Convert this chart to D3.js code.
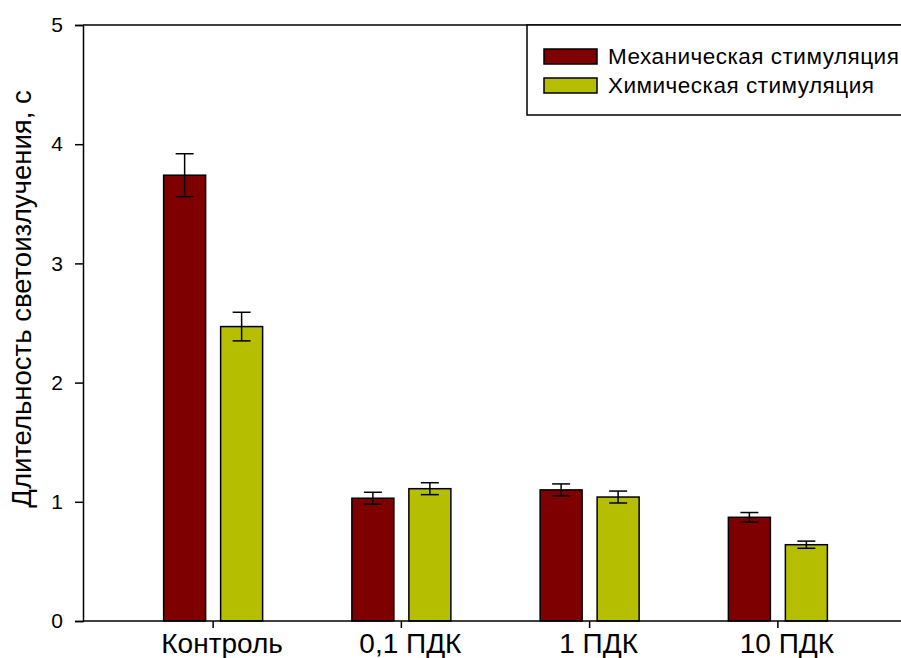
<!DOCTYPE html>
<html>
<head>
<meta charset="utf-8">
<script src="https://cdn.jsdelivr.net/npm/d3@7"></script>
<style>
  body { margin: 0; background: #fff; }
  svg { font-family: "Liberation Sans", Arial, sans-serif; }
</style>
</head>
<body>
<div id="chart"></div>
<script>
// Groups along the x axis
const categories = ["Контроль", "0,1 ПДК", "1 ПДК", "10 ПДК"];
const seriesNames = ["Механическая стимуляция", "Химическая стимуляция"];
const seriesColors = ["#7f0000", "#b5be00"];

// Mean duration, s
const mechValues = [3.74, 1.03, 1.10, 0.87];
const chemValues = [2.47, 1.11, 1.04, 0.64];
// Error bar half-lengths
const mechErrors = [0.18, 0.05, 0.05, 0.04];
const chemErrors = [0.12, 0.05, 0.05, 0.03];

const yTicks = [0, 1, 2, 3, 4, 5];
const yLabel = "Длительность светоизлучения, с";

const width = 901, height = 658;
const plotLeft = 83, plotTop = 25, plotBottom = 621, plotRight = 905;

const svg = d3.select("#chart").append("svg")
  .attr("width", width)
  .attr("height", height);

const x = d3.scaleBand()
  .domain(categories)
  .range([119, 872]);

const xInner = d3.scaleBand()
  .domain(seriesNames)
  .range([-49.5, 49.5])
  .paddingInner(0.263);

const y = d3.scaleLinear()
  .domain([0, 5])
  .range([plotBottom, plotTop]);

// top frame line
svg.append("line")
  .attr("x1", plotLeft).attr("x2", plotRight)
  .attr("y1", plotTop).attr("y2", plotTop)
  .attr("stroke", "#000").attr("stroke-width", 1.5);

// bars
const rows = categories.map((c, i) => ({
  cat: c,
  vals: [
    { s: seriesNames[0], v: mechValues[i], e: mechErrors[i], color: seriesColors[0] },
    { s: seriesNames[1], v: chemValues[i], e: chemErrors[i], color: seriesColors[1] }
  ]
}));

const groups = svg.selectAll(".grp")
  .data(rows)
  .enter().append("g")
  .attr("class", "grp")
  .attr("transform", d => `translate(${x(d.cat) + x.bandwidth() / 2},0)`);

groups.selectAll("rect")
  .data(d => d.vals)
  .enter().append("rect")
  .attr("x", d => xInner(d.s))
  .attr("width", xInner.bandwidth())
  .attr("y", d => y(d.v))
  .attr("height", d => y(0) - y(d.v))
  .attr("fill", d => d.color)
  .attr("stroke", "#000")
  .attr("stroke-width", 1.5);

// error bars
const capW = 9;
const err = groups.selectAll(".err")
  .data(d => d.vals)
  .enter().append("g")
  .attr("class", "err")
  .attr("transform", d => `translate(${xInner(d.s) + xInner.bandwidth() / 2},0)`)
  .attr("stroke", "#000")
  .attr("stroke-width", 1.5);

err.append("line")
  .attr("x1", 0).attr("x2", 0)
  .attr("y1", d => y(d.v + d.e))
  .attr("y2", d => y(d.v - d.e));
err.append("line")
  .attr("x1", -capW).attr("x2", capW)
  .attr("y1", d => y(d.v + d.e))
  .attr("y2", d => y(d.v + d.e));
err.append("line")
  .attr("x1", -capW).attr("x2", capW)
  .attr("y1", d => y(d.v - d.e))
  .attr("y2", d => y(d.v - d.e));

// y axis
const yAxis = svg.append("g")
  .attr("transform", `translate(${plotLeft},0)`)
  .call(d3.axisLeft(y).tickValues(yTicks).tickFormat(d3.format("d")).tickSize(8).tickPadding(12));
yAxis.select(".domain").attr("stroke-width", 1.5);
yAxis.selectAll(".tick line").attr("stroke-width", 1.5);
yAxis.selectAll("text")
  .attr("font-size", 21)
  .attr("fill", "#000")
  .attr("font-family", "Liberation Sans, Arial, sans-serif");

// x axis
const xAxis = svg.append("g")
  .attr("transform", `translate(0,${plotBottom})`)
  .call(d3.axisBottom(x).tickSize(7).tickPadding(5).tickSizeOuter(0));
xAxis.select(".domain")
  .attr("d", `M${plotLeft},0H${plotRight}`)
  .attr("stroke-width", 1.5);
xAxis.selectAll(".tick line").attr("stroke-width", 1.5);
xAxis.selectAll("text")
  .attr("font-size", 28)
  .attr("dx", 9)
  .attr("fill", "#000")
  .attr("font-family", "Liberation Sans, Arial, sans-serif");

// y label
svg.append("text")
  .attr("transform", `translate(31,299) rotate(-90)`)
  .attr("text-anchor", "middle")
  .attr("font-size", 27.5)
  .text(yLabel);

// legend
const legend = svg.append("g");
legend.append("rect")
  .attr("x", 527).attr("y", 25)
  .attr("width", 400).attr("height", 90)
  .attr("fill", "#fff")
  .attr("stroke", "#000")
  .attr("stroke-width", 1.5);

const items = legend.selectAll(".item")
  .data(seriesNames)
  .enter().append("g")
  .attr("class", "item")
  .attr("transform", (d, i) => `translate(544,${49 + i * 29})`);
items.append("rect")
  .attr("width", 53).attr("height", 15)
  .attr("fill", (d, i) => seriesColors[i])
  .attr("stroke", "#000")
  .attr("stroke-width", 1.5);
items.append("text")
  .attr("x", 64).attr("y", 7.5)
  .attr("dy", "0.35em")
  .attr("font-size", 22.5)
  .attr("letter-spacing", 0.5)
  .text(d => d);
</script>
</body>
</html>
